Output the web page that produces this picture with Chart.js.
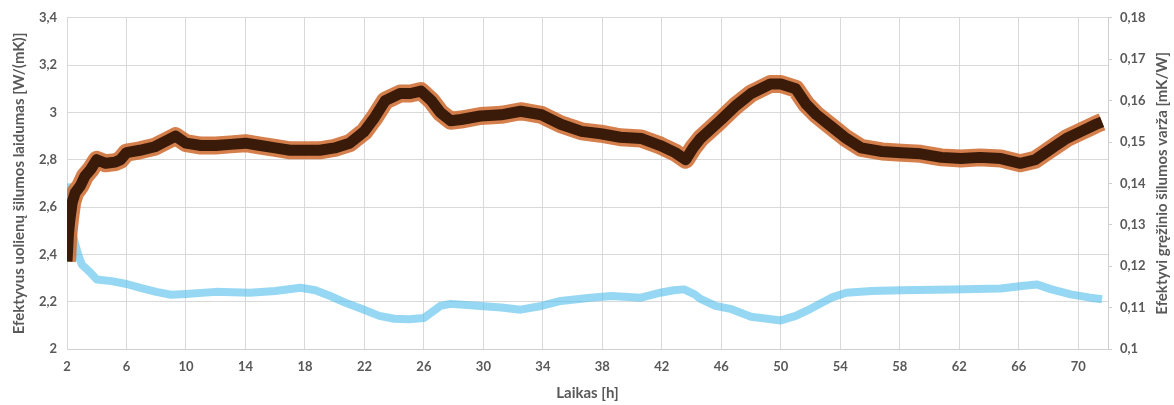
<!DOCTYPE html>
<html>
<head>
<meta charset="utf-8">
<script src="https://cdn.jsdelivr.net/npm/chart.js@4.4.1/dist/chart.umd.min.js"></script>
<style>
  html, body { margin: 0; padding: 0; background: #fff; }
</style>
</head>
<body>
<canvas id="resistChart" width="1174" height="405"></canvas>
<script>
// thermal conductivity (left axis)
const condHours = [2, 2.1, 2.2, 2.35, 2.55, 2.9, 3.2, 3.6, 4, 4.6, 5.25, 5.6, 6, 6.9, 7.9, 9, 9.3, 10, 11, 12, 13, 14, 15, 16, 17, 18, 19, 20, 21, 22, 22.7, 23.4, 24.4, 25.1, 25.8, 26.5, 27.1, 27.8, 28.5, 29.8, 31.2, 32.5, 33.9, 35.2, 36.6, 37.9, 39.2, 40.6, 41.9, 42.9, 43.6, 44.1, 44.6, 45.3, 46, 47, 48, 49.3, 50, 51, 51.7, 52.4, 53.4, 54.4, 55.4, 56.8, 58.1, 59.4, 60.8, 62.1, 63.4, 64.8, 66.1, 67.1, 67.8, 68.5, 69.2, 70.2, 71.2, 71.6];
const condValues = [2.37, 2.49, 2.55, 2.62, 2.66, 2.69, 2.73, 2.76, 2.80, 2.785, 2.79, 2.80, 2.83, 2.84, 2.855, 2.89, 2.90, 2.87, 2.86, 2.86, 2.865, 2.87, 2.86, 2.85, 2.84, 2.84, 2.84, 2.85, 2.87, 2.92, 2.98, 3.05, 3.08, 3.08, 3.09, 3.05, 3.00, 2.965, 2.97, 2.985, 2.99, 3.005, 2.99, 2.95, 2.92, 2.91, 2.895, 2.89, 2.86, 2.83, 2.80, 2.85, 2.89, 2.93, 2.97, 3.03, 3.08, 3.12, 3.12, 3.10, 3.035, 2.99, 2.94, 2.89, 2.85, 2.835, 2.83, 2.825, 2.81, 2.805, 2.81, 2.805, 2.785, 2.80, 2.83, 2.86, 2.89, 2.92, 2.95, 2.96];

// borehole resistance (right axis)
const resHours = [2, 2.1, 2.2, 2.35, 2.75, 3, 3.5, 4, 5, 6, 7, 8, 9, 10, 12, 14.3, 16, 17.7, 18.7, 19.7, 20.7, 21.8, 23, 24, 25, 26, 27.1, 27.8, 29.8, 31.2, 32.5, 33.9, 35.2, 37.2, 38.6, 40.6, 41.9, 42.8, 43.5, 44.2, 44.6, 45.6, 46.6, 48, 50, 51, 52, 53.4, 54.4, 56.1, 58.1, 61.5, 64.8, 66.2, 67.2, 68.2, 69.5, 70.8, 71.6];
const resValues = [0.140, 0.133, 0.1294, 0.128, 0.1228, 0.1204, 0.1187, 0.1168, 0.1164, 0.1157, 0.1147, 0.1138, 0.1131, 0.1133, 0.1138, 0.1136, 0.114, 0.1148, 0.1142, 0.1128, 0.1112, 0.1097, 0.108, 0.1073, 0.1072, 0.1075, 0.1104, 0.1109, 0.1104, 0.110, 0.1095, 0.1104, 0.1116, 0.1124, 0.1128, 0.1124, 0.1136, 0.1142, 0.1144, 0.1132, 0.1121, 0.1104, 0.1097, 0.1078, 0.1069, 0.108, 0.1097, 0.1124, 0.1136, 0.114, 0.1142, 0.1144, 0.1146, 0.1152, 0.1156, 0.1144, 0.1132, 0.1124, 0.112];

const xTicks = [2, 6, 10, 14, 18, 22, 26, 30, 34, 38, 42, 46, 50, 54, 58, 62, 66, 70];
const leftTicks = [2, 2.2, 2.4, 2.6, 2.8, 3, 3.2, 3.4];
const rightTicks = [0.1, 0.11, 0.12, 0.13, 0.14, 0.15, 0.16, 0.17, 0.18];

const leftTitle = "Efektyvus uolienų šilumos laidumas [W/(mK)]";
const rightTitle = "Efektyvi gręžinio šilumos varža [mK/W]";
const xTitle = "Laikas [h]";

const textColor = "#595959";
const gridColor = "#d9d9d9";
const tickFont = { family: "Lato", size: 13, weight: "bold" };
const titleFont = { family: "Lato", size: 15, weight: "bold" };

function toPoints(xs, ys) {
    return xs.map((x, i) => ({ x: x, y: ys[i] }));
}

function commaLabel(v) {
    return String(+Number(v).toFixed(2)).replace(".", ",");
}

const condPoints = toPoints(condHours, condValues);
const resPoints = toPoints(resHours, resValues);

// right axis title reads bottom-to-top like the left one
const rightTitlePlugin = {
    id: "rightTitle",
    afterDraw(chart) {
        const ctx = chart.ctx;
        const area = chart.chartArea;
        ctx.save();
        ctx.translate(1162, (area.top + area.bottom) / 2);
        ctx.rotate(-Math.PI / 2);
        ctx.font = "bold 15px Lato";
        ctx.fillStyle = textColor;
        ctx.textAlign = "center";
        ctx.textBaseline = "middle";
        ctx.fillText(rightTitle, 0, 0);
        ctx.restore();
    }
};

const ctx = document.getElementById("resistChart").getContext("2d");

new Chart(ctx, {
    type: "scatter",
    data: {
        datasets: [
            {
                label: "laidumas core",
                data: condPoints,
                yAxisID: "y",
                showLine: true,
                pointRadius: 0,
                borderColor: "#3a1a08",
                borderWidth: 11,
                borderJoinStyle: "round",
                borderCapStyle: "butt",
                order: 1
            },
            {
                label: "laidumas",
                data: condPoints,
                yAxisID: "y",
                showLine: true,
                pointRadius: 0,
                borderColor: "rgba(205, 105, 45, 0.85)",
                borderWidth: 18,
                borderJoinStyle: "round",
                borderCapStyle: "butt",
                order: 2
            },
            {
                label: "varža",
                data: resPoints,
                yAxisID: "y1",
                showLine: true,
                pointRadius: 0,
                borderColor: "rgba(80, 188, 235, 0.6)",
                borderWidth: 8,
                borderJoinStyle: "round",
                borderCapStyle: "butt",
                order: 3
            }
        ]
    },
    options: {
        responsive: false,
        animation: false,
        layout: { padding: { top: 12, left: 0, right: 0, bottom: 0 } },
        plugins: {
            legend: { display: false },
            tooltip: { enabled: false }
        },
        scales: {
            x: {
                type: "linear",
                min: 2,
                max: 72,
                afterBuildTicks: s => { s.ticks = xTicks.map(v => ({ value: v })); },
                afterFit: s => { s.height = 56; },
                grid: { color: gridColor, drawTicks: false },
                border: { color: "#cfcfcf" },
                ticks: {
                    padding: 10,
                    color: textColor,
                    font: tickFont,
                    maxRotation: 0,
                    callback: v => String(v)
                },
                title: {
                    display: true,
                    text: xTitle,
                    color: textColor,
                    font: titleFont,
                    padding: { top: 0, bottom: 3 }
                }
            },
            y: {
                position: "left",
                min: 2,
                max: 3.4,
                afterBuildTicks: s => { s.ticks = leftTicks.map(v => ({ value: v })); },
                afterFit: s => { s.width = 67; },
                grid: { color: gridColor, drawTicks: false },
                border: { color: gridColor },
                ticks: {
                    padding: 10,
                    color: textColor,
                    font: tickFont,
                    callback: v => commaLabel(v)
                },
                title: {
                    display: true,
                    text: leftTitle,
                    color: textColor,
                    font: titleFont,
                    padding: { top: 10, bottom: 0 }
                }
            },
            y1: {
                position: "right",
                min: 0.1,
                max: 0.18,
                afterBuildTicks: s => { s.ticks = rightTicks.map(v => ({ value: v })); },
                afterFit: s => { s.width = 66; },
                grid: { drawOnChartArea: false, color: "#cfcfcf", tickLength: 4 },
                border: { color: "#cfcfcf" },
                ticks: {
                    padding: 8,
                    color: textColor,
                    font: tickFont,
                    callback: v => commaLabel(v)
                }
            }
        }
    },
    plugins: [rightTitlePlugin]
});
</script>
</body>
</html>
